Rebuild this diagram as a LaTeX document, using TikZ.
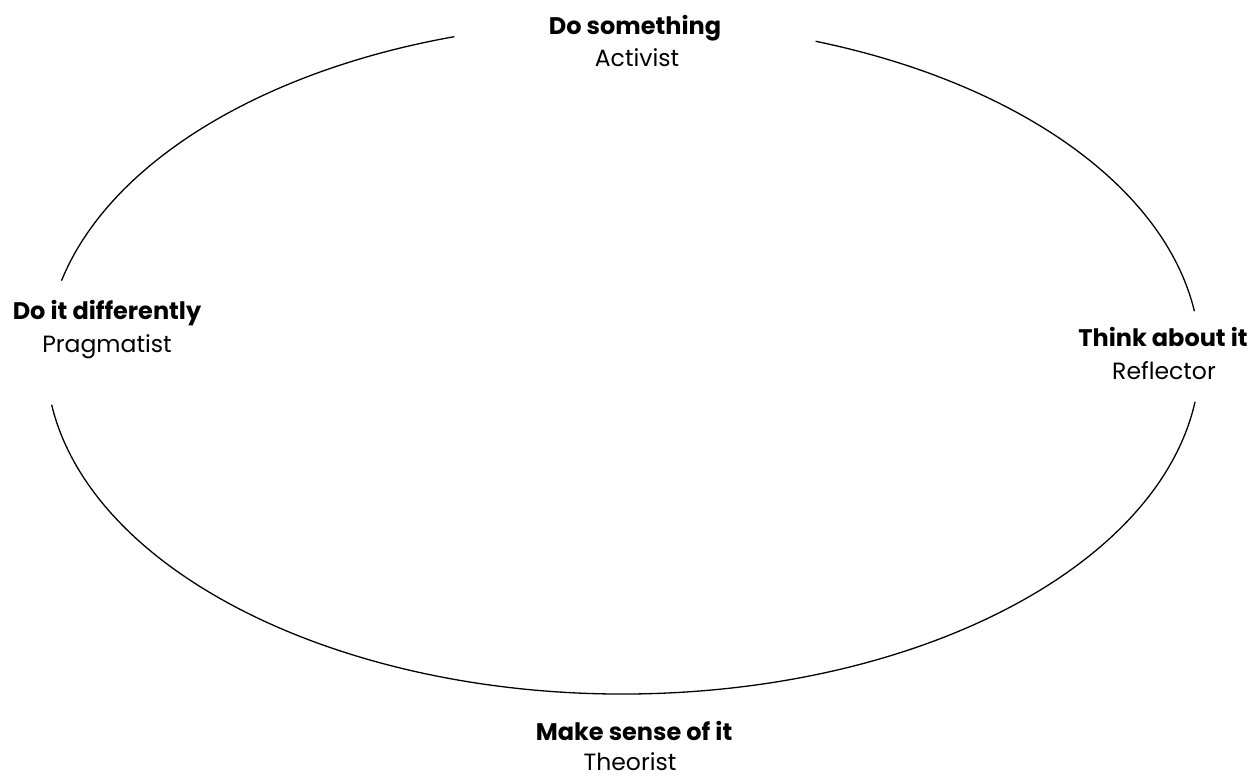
\documentclass[tikz,border=0pt]{standalone}
\usepackage{fontspec}
\setmainfont{Poppins}
\begin{document}
\begin{tikzpicture}[x=1pt,y=1pt,
  cyc/.style={line width=1.3pt, black},
  sub/.style={anchor=base, inner sep=0pt, font=\fontsize{23.5}{28}\selectfont},
  hd/.style={anchor=base, inner sep=0pt, font=\fontsize{24}{28}\selectfont\bfseries}]
\useasboundingbox (0,0) rectangle (1260,776);
\coordinate (c) at (623,418);
% ellipse segments
\draw[cyc] ([shift={(8:577pt and 336pt)}]c) arc[start angle=8, end angle=70.5, x radius=577pt, y radius=336pt];
\draw[cyc] ([shift={(107:577pt and 336pt)}]c) arc[start angle=107, end angle=166.7, x radius=577pt, y radius=336pt];
\draw[cyc] ([shift={(188:577pt and 336pt)}]c) arc[start angle=188, end angle=352.5, x radius=577pt, y radius=336pt];
% labels
\node[hd] (tophd) at (635,741) {Do something};
\node[sub] (topsub) at (637,709) {Activist};
\node[hd] (lefthd) at (107,456) {Do it differently};
\node[sub] (leftsub) at (107,423) {Pragmatist};
\node[hd] (righthd) at (1163,429) {Think about it};
\node[sub] (rightsub) at (1164,396) {Reflector};
\node[hd] (bothd) at (634,35) {Make sense of it};
\node[sub] (botsub) at (630,6) {Theorist};
\end{tikzpicture}
\end{document}
